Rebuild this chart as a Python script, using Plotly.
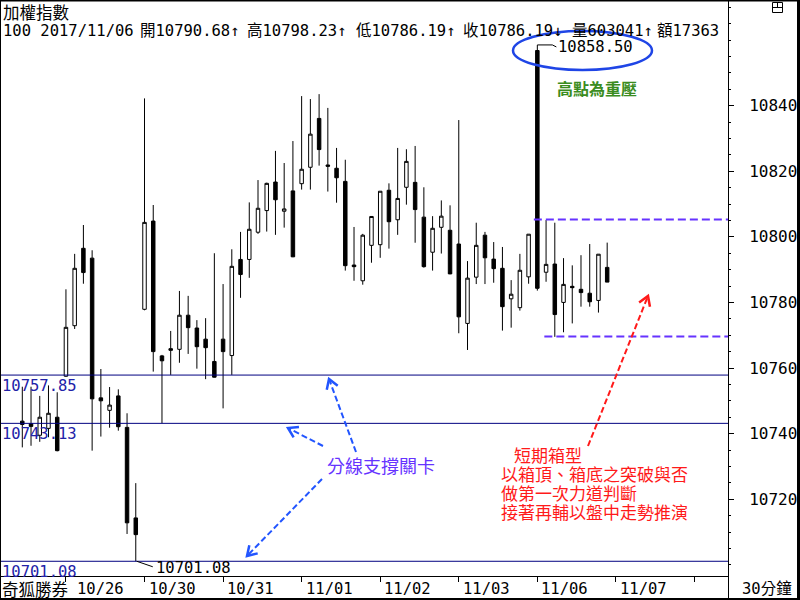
import math
import plotly.graph_objects as go

# ---------------- data (30-minute bars of the TAIEX) ----------------
bar_index = list(range(68))
opens = [10743.8, 10743.0, 10739.5, 10741.6, 10745.0, 10757.5, 10772.9, 10796.5, 10793.5, 10750.9,
         10747.1, 10751.5, 10741.9, 10714.3, 10777.9, 10804.8, 10763.7, 10765.9, 10765.7, 10776.1,
         10772.2, 10768.8, 10762.0, 10768.8, 10763.8, 10793.1, 10793.1, 10801.4, 10808.0, 10816.7,
         10807.8, 10814.0, 10816.2, 10821.2, 10836.1, 10821.9, 10820.9, 10816.9, 10791.4, 10786.6,
         10797.4, 10797.6, 10814.2, 10805.2, 10815.1, 10816.6, 10806.0, 10795.3, 10802.9, 10802.0,
         10797.8, 10773.6, 10787.7, 10800.5, 10793.2, 10790.4, 10781.1, 10778.4, 10787.8, 10856.8,
         10789.2, 10791.7, 10780.0, 10784.9, 10784.0, 10782.8, 10780.6, 10790.68]
highs = [10754.3, 10754.3, 10751.5, 10754.7, 10752.6, 10784.0, 10794.8, 10803.6, 10795.9, 10759.7,
         10754.2, 10753.5, 10746.2, 10724.9, 10842.2, 10809.7, 10764.0, 10771.3, 10783.5, 10782.0,
         10774.6, 10775.2, 10795.0, 10785.6, 10796.2, 10801.5, 10810.5, 10817.3, 10816.5, 10826.2,
         10822.5, 10829.2, 10842.9, 10842.0, 10843.5, 10839.3, 10827.1, 10823.5, 10803.0, 10800.9,
         10806.3, 10813.9, 10816.3, 10827.1, 10826.7, 10827.7, 10815.1, 10806.3, 10811.1, 10809.6,
         10835.6, 10792.6, 10804.3, 10801.5, 10798.4, 10796.9, 10786.8, 10794.8, 10800.8, 10858.5,
         10805.1, 10804.3, 10793.5, 10791.3, 10794.4, 10797.8, 10794.7, 10798.23]
lows = [10735.8, 10736.3, 10737.5, 10738.9, 10734.6, 10757.3, 10771.9, 10785.7, 10734.8, 10739.1,
        10741.8, 10740.9, 10709.4, 10701.08, 10777.6, 10758.9, 10743.2, 10757.9, 10761.6, 10764.3,
        10759.8, 10756.6, 10757.1, 10747.7, 10757.9, 10781.4, 10787.5, 10800.9, 10801.6, 10800.6,
        10802.8, 10793.8, 10814.4, 10814.4, 10821.7, 10813.8, 10810.4, 10789.7, 10786.6, 10785.4,
        10792.1, 10793.6, 10796.4, 10800.6, 10809.8, 10798.2, 10790.6, 10789.7, 10794.9, 10788.6,
        10770.6, 10765.5, 10785.6, 10785.6, 10786.0, 10771.4, 10772.3, 10777.5, 10785.7, 10783.6,
        10786.3, 10769.5, 10770.9, 10773.6, 10778.7, 10778.7, 10776.9, 10786.19]
closes = [10742.8, 10742.2, 10745.0, 10746.2, 10734.8, 10772.4, 10790.4, 10789.1, 10750.6, 10750.0,
          10748.7, 10742.1, 10712.8, 10709.2, 10804.4, 10765.0, 10762.2, 10765.4, 10776.1, 10772.3,
          10766.5, 10766.2, 10757.2, 10765.0, 10791.0, 10788.5, 10802.3, 10808.7, 10816.3, 10811.3,
          10808.5, 10793.9, 10820.6, 10831.3, 10826.6, 10821.5, 10818.0, 10791.2, 10790.9, 10800.5,
          10806.2, 10813.9, 10804.6, 10811.7, 10823.0, 10808.3, 10790.9, 10802.6, 10806.3, 10788.7,
          10775.6, 10787.4, 10797.4, 10793.6, 10790.3, 10778.7, 10782.5, 10789.8, 10800.8, 10784.3,
          10791.6, 10776.3, 10785.5, 10784.5, 10783.0, 10780.2, 10794.7, 10786.19]
last_volume = "603041"
last_amount = "17363"

date_tick_bars = [5, 14, 23, 32, 41, 50, 59, 68, 77]
date_tick_labels = ["10/26", "10/30", "10/31", "11/01", "11/02", "11/03", "11/06", "11/07", ""]
price_ticks = [10720, 10740, 10760, 10780, 10800, 10820, 10840]
support_levels = [10757.85, 10743.13, 10701.08]
support_labels = ["10757.85", "10743.13", "10701.08"]
box_top = 10805.3
box_bottom = 10769.6
high_bar, high_value = 59, 10858.50
low_bar, low_value = 13, 10701.08

# ---------------- geometry ----------------
W, H = 800, 600
ML, MR, MT, MB = 0, 72, 0, 24
PW, PH = W - ML - MR, H - MT - MB      # 728 x 576
x_range = [-2.554, 80.84]
y_range = [10696.59, 10872.20]

def bx(b):    # bar -> pixel
    return (b - x_range[0]) / (x_range[1] - x_range[0]) * PW

def by(p):    # price -> pixel
    return (y_range[1] - p) / (y_range[1] - y_range[0]) * PH

def ppx(px):
    return px / PW

def ppy(py):
    return 1 - py / PH

MONO = "DejaVu Sans Mono, Noto Sans CJK TC"
CJK = "Noto Sans CJK TC, DejaVu Sans"

fig = go.Figure()
fig.add_trace(go.Candlestick(
    x=bar_index, open=opens, high=highs, low=lows, close=closes,
    increasing=dict(line=dict(color="black", width=1), fillcolor="white"),
    decreasing=dict(line=dict(color="black", width=1), fillcolor="black"),
    whiskerwidth=0, showlegend=False, hoverinfo="skip"))

shapes = []
annotations = []

def pline(x0, y0, x1, y1, color="black", width=1, dash=None):
    shapes.append(dict(type="line", xref="paper", yref="paper",
                       x0=ppx(x0), y0=ppy(y0), x1=ppx(x1), y1=ppy(y1),
                       line=dict(color=color, width=width, dash=dash), layer="above"))

def ptext(text, x, y, size=15.5, color="black", family=MONO, xanchor="left", yanchor="middle",
          bold=False, align="left"):
    if bold:
        text = "<b>" + text + "</b>"
    annotations.append(dict(text=text, xref="paper", yref="paper", x=ppx(x), y=ppy(y),
                            xanchor=xanchor, yanchor=yanchor, showarrow=False, align=align,
                            font=dict(size=size, color=color, family=family), borderpad=0))

# support lines (full width) with labels at the left
for lvl, lab in zip(support_levels, support_labels):
    shapes.append(dict(type="line", xref="paper", yref="y", x0=0, x1=1, y0=lvl, y1=lvl,
                       line=dict(color="#000080", width=1), layer="above"))
    annotations.append(dict(text=lab, xref="paper", yref="y", x=ppx(1), y=lvl,
                            xanchor="left", yanchor="top", yshift=-1, showarrow=False,
                            font=dict(size=15.5, color="#2222a8", family=MONO), borderpad=0))

# box lines (purple dashed)
shapes.append(dict(type="line", xref="x", yref="y", x0=high_bar - 0.4, x1=x_range[1], y0=box_top, y1=box_top,
                   line=dict(color="#6633ff", width=2, dash="8px,4px"), layer="above"))
shapes.append(dict(type="line", xref="x", yref="y", x0=high_bar + 0.8, x1=x_range[1], y0=box_bottom, y1=box_bottom,
                   line=dict(color="#6633ff", width=2, dash="8px,4px"), layer="above"))

# high label with bracket
hx, hy = bx(high_bar), by(high_value)
pline(hx, hy, hx + 15, hy, width=1)
pline(hx + 15, hy, hx + 19, hy + 2, width=1)
ptext(f"{high_value:.2f}", hx + 20, hy + 2.5, size=15.5)
# ellipse
shapes.append(dict(type="circle", xref="paper", yref="paper",
                   x0=ppx(513), x1=ppx(652), y0=ppy(31), y1=ppy(70),
                   line=dict(color="#1f45e6", width=2.5), layer="above"))

# low label with connector
lx, ly = bx(low_bar), by(low_value)
pline(lx + 1, ly, lx + 17, ly + 5.5, width=1)
ptext(f"{low_value:.2f}", lx + 19, ly + 6.5, size=15.5)

# dashed arrows
def dashed_arrow(tail, head, color, width=2, head_len=11, dash="6px,3px"):
    tx, ty = tail
    hx_, hy_ = head
    pline(tx, ty, hx_, hy_, color=color, width=width, dash=dash)
    L = math.hypot(hx_ - tx, hy_ - ty)
    ux, uy = (tx - hx_) / L, (ty - hy_) / L
    pts = []
    for a in (math.radians(32), -math.radians(32)):
        rx = ux * math.cos(a) - uy * math.sin(a)
        ry = ux * math.sin(a) + uy * math.cos(a)
        pts.append((hx_ + rx * head_len, hy_ + ry * head_len))
    path = "M {},{} L {},{} L {},{}".format(ppx(pts[0][0]), ppy(pts[0][1]), ppx(hx_), ppy(hy_),
                                            ppx(pts[1][0]), ppy(pts[1][1]))
    shapes.append(dict(type="path", xref="paper", yref="paper", path=path,
                       line=dict(color=color, width=width + 0.5), layer="above"))

BLUE = "#2255ff"
dashed_arrow((356, 452), (329, 379), BLUE)
dashed_arrow((323, 446), (288, 428), BLUE)
dashed_arrow((322, 479), (247, 556), BLUE)
dashed_arrow((588, 446), (648, 296), "#ff1a1a")

ptext("分線支撐關卡", 381, 465, size=18, color="#6633ff", family=CJK, xanchor="center")
ptext("高點為重壓", 597, 88, size=16, color="#3a8c20", family=CJK, xanchor="center", bold=True)
red_lines = ["短期箱型", "以箱頂、箱底之突破與否", "做第一次力道判斷", "接著再輔以盤中走勢推演"]
for i, t in enumerate(red_lines):
    ptext(t, 513 if i == 0 else 500, 454 + i * 19, size=17, color="#ff1a1a", family=CJK)

# header
ptext("加權指數", 2, 12, size=16.5, family=CJK)
o, h_, l_, c = opens[-1], highs[-1], lows[-1], closes[-1]
header_parts = [("100 2017/11/06", 2), (f"開{o:.2f}↑", 139), (f"高{h_:.2f}↑", 246), (f"低{l_:.2f}↑", 355),
                (f"收{c:.2f}↓", 462), (f"量{last_volume}↑", 571), (f"額{last_amount}", 656)]
for t, x in header_parts:
    ptext(t, x, 31, size=15.5)

# bottom labels
ptext("奇狐勝券", 1, 588.5, size=16.5, family=CJK)
for k, (b, lab) in enumerate(zip(date_tick_bars, date_tick_labels)):
    if lab:
        ptext(lab, bx(b) + (10 if k == 0 else 3), 589, size=15.5)
ptext("30分鐘", 741, 589, size=15.5)

# frame
pline(0, 0.5, 800, 0.5, width=2)
pline(0.5, 0, 0.5, 600, width=1)
pline(798.5, 0, 798.5, 600, width=3)
pline(0, 599, 800, 599, width=2)
pline(728.5, 0, 728.5, 600, width=1)
pline(0, 576.5, 728.5, 576.5, width=1)
# small icon at top right
shapes.append(dict(type="rect", xref="paper", yref="paper", x0=ppx(772.5), x1=ppx(782.5), y0=ppy(2.5), y1=ppy(12.5),
                   line=dict(color="black", width=1), layer="above"))
pline(772.5, 7.5, 782.5, 7.5)
pline(777.5, 2.5, 777.5, 7.5)

fig.update_layout(
    width=W, height=H, margin=dict(l=ML, r=MR, t=MT, b=MB, pad=0),
    paper_bgcolor="white", plot_bgcolor="white", showlegend=False,
    boxgap=0.43,
    shapes=shapes, annotations=annotations,
    xaxis=dict(range=x_range, showgrid=False, zeroline=False, showline=False,
               tickvals=date_tick_bars, ticks="outside", ticklen=5, tickcolor="black",
               showticklabels=False, rangeslider=dict(visible=False), fixedrange=True),
    yaxis=dict(range=y_range, side="right", showgrid=False, zeroline=False, showline=False,
               tickvals=price_ticks, tickformat="d", ticks="outside", ticklen=5, tickcolor="black",
               tickfont=dict(family=MONO, size=16, color="black"), ticklabelstandoff=12,
               minor=dict(dtick=5, ticks="outside", ticklen=2, tickcolor="black", showgrid=False),
               fixedrange=True),
)

fig.write_html("out.html")
